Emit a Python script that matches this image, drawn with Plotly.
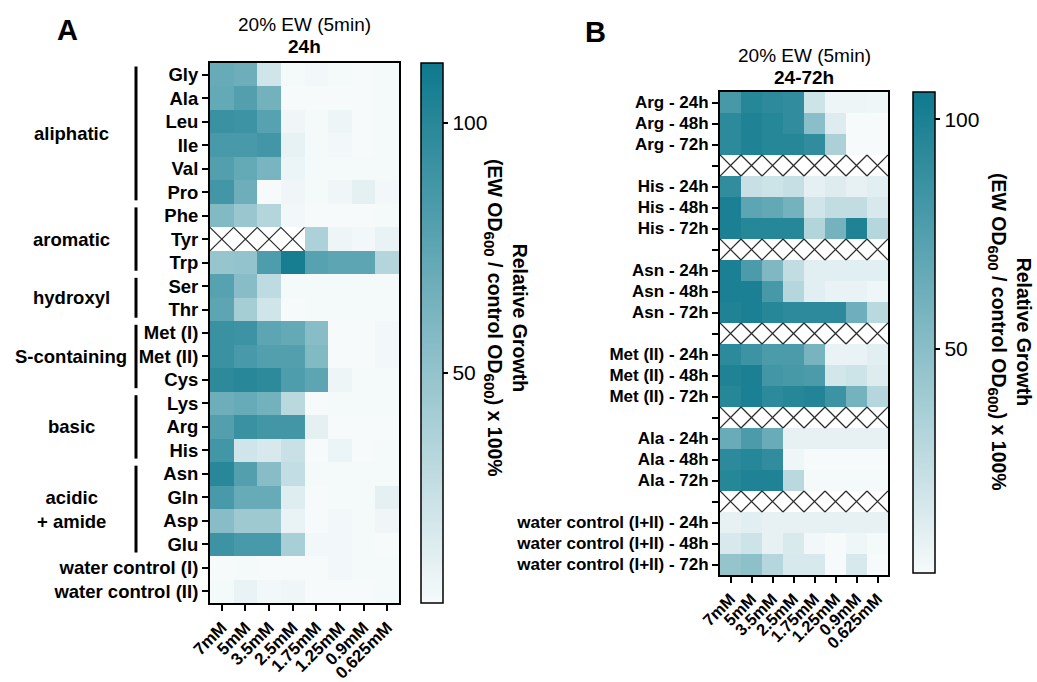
import plotly.graph_objects as go

W, H = 1037, 682
FONT = "Liberation Sans, Arial, sans-serif"

conc_labels = ["7mM", "5mM", "3.5mM", "2.5mM", "1.75mM", "1.25mM", "0.9mM", "0.625mM"]

# Panel A (24h)
a_rows = ["Gly", "Ala", "Leu", "Ile", "Val", "Pro", "Phe", "Tyr", "Trp", "Ser", "Thr",
          "Met (I)", "Met (II)", "Cys", "Lys", "Arg", "His", "Asn", "Gln", "Asp", "Glu",
          "water control (I)", "water control (II)"]
a_values = [
    [70, 68, 22, 5, 6, 5, 4, 5],
    [72, 80, 65, 4, 4, 4, 4, 5],
    [92, 90, 78, 7, 5, 8, 4, 5],
    [85, 85, 88, 11, 5, 6, 4, 5],
    [80, 72, 62, 9, 5, 5, 5, 5],
    [88, 68, 3, 7, 5, 7, 12, 6],
    [58, 47, 35, 6, 4, 4, 4, 5],
    [None, None, None, None, 38, 8, 6, 10],
    [48, 50, 82, 108, 78, 75, 75, 35],
    [78, 55, 30, 5, 5, 5, 5, 5],
    [75, 42, 22, 4, 5, 5, 5, 5],
    [92, 90, 75, 72, 55, 4, 4, 6],
    [92, 85, 80, 80, 58, 4, 4, 6],
    [98, 100, 98, 82, 75, 8, 5, 5],
    [68, 70, 65, 32, 4, 5, 5, 5],
    [80, 92, 88, 88, 12, 3, 3, 1],
    [88, 22, 18, 25, 4, 9, 4, 5],
    [100, 80, 55, 28, 5, 5, 5, 5],
    [85, 70, 70, 15, 4, 5, 5, 12],
    [55, 45, 45, 10, 3, 6, 5, 7],
    [90, 85, 85, 40, 6, 6, 5, 4],
    [4, 5, 4, 4, 4, 6, 5, 5],
    [5, 10, 6, 7, 4, 4, 4, 5],
]
a_groups = [
    ("aliphatic", "Gly", "Pro"),
    ("aromatic", "Phe", "Trp"),
    ("hydroxyl", "Ser", "Thr"),
    ("S-containing", "Met (I)", "Cys"),
    ("basic", "Lys", "His"),
    ("acidic<br>+ amide", "Asn", "Glu"),
]
a_range = [4, 112]

# Panel B (24-72h)
b_rows = ["Arg - 24h", "Arg - 48h", "Arg - 72h", "",
          "His - 24h", "His - 48h", "His - 72h", " ",
          "Asn - 24h", "Asn - 48h", "Asn - 72h", "  ",
          "Met (II) - 24h", "Met (II) - 48h", "Met (II) - 72h", "   ",
          "Ala - 24h", "Ala - 48h", "Ala - 72h", "    ",
          "water control (I+II) - 24h", "water control (I+II) - 48h", "water control (I+II) - 72h"]
N = [None] * 8
b_values = [
    [80, 95, 92, 90, 20, 5, 5, 4],
    [92, 98, 95, 90, 50, 12, 1, 1],
    [92, 98, 95, 95, 90, 35, 1, 1],
    N,
    [90, 22, 20, 23, 9, 12, 8, 10],
    [100, 70, 68, 60, 18, 25, 25, 15],
    [100, 95, 95, 95, 32, 60, 98, 30],
    N,
    [100, 78, 55, 25, 10, 10, 10, 10],
    [100, 100, 80, 30, 10, 7, 7, 4],
    [98, 100, 95, 92, 92, 92, 62, 28],
    N,
    [92, 85, 78, 78, 58, 7, 7, 10],
    [98, 100, 82, 80, 78, 17, 20, 12],
    [95, 100, 92, 95, 97, 85, 60, 30],
    N,
    [65, 78, 65, 8, 8, 8, 8, 8],
    [92, 95, 90, 4, 1, 1, 1, 1],
    [95, 98, 98, 28, 2, 2, 2, 2],
    N,
    [8, 10, 8, 8, 8, 8, 8, 8],
    [15, 20, 8, 14, 3, 1, 4, 2],
    [45, 48, 30, 15, 15, 1, 15, 1],
]
b_range = [1, 106]

colorscale = [[0, "rgb(246,250,251)"], [1, "rgb(14,121,141)"]]


def px_x(v):
    return v / W


def px_y(v):
    return 1 - v / H


def hatch_xy(values):
    xs, ys = [], []
    for i, row in enumerate(values):
        for j, v in enumerate(row):
            if v is None:
                xs += [j - 0.5, j + 0.5, None, j + 0.5, j - 0.5, None]
                ys += [i - 0.5, i + 0.5, None, i - 0.5, i + 0.5, None]
    return xs, ys


fig = go.Figure()

panels = [
    dict(rows=a_rows, vals=a_values, rng=a_range, xa="x", ya="y",
         dom_x=[px_x(210), px_x(399)], dom_y=[px_y(603), px_y(63)],
         cb_x=px_x(421), cb_y=px_y(63), cb_len=(603 - 63) / H, lab=18.5, xlab=17),
    dict(rows=b_rows, vals=b_values, rng=b_range, xa="x2", ya="y2",
         dom_x=[px_x(720), px_x(888)], dom_y=[px_y(575), px_y(92)],
         cb_x=px_x(913), cb_y=px_y(92), cb_len=(573 - 92) / H, lab=17, xlab=16.5),
]

for k, p in enumerate(panels):
    n = len(p["rows"])
    fig.add_trace(go.Heatmap(
        z=p["vals"], x=list(range(len(conc_labels))), y=list(range(n)),
        colorscale=colorscale, zmin=p["rng"][0], zmax=p["rng"][1],
        xaxis=p["xa"], yaxis=p["ya"], hoverongaps=False,
        colorbar=dict(
            x=p["cb_x"], xanchor="left", xpad=0, y=p["cb_y"], yanchor="top", ypad=0,
            len=p["cb_len"], lenmode="fraction", thickness=22, thicknessmode="pixels",
            outlinewidth=1.5, outlinecolor="black",
            tickvals=[50, 100], ticks="outside", ticklen=5, tickwidth=1.5, tickcolor="black",
            tickfont=dict(family=FONT, size=21, color="black"),
        ),
    ))
    hx, hy = hatch_xy(p["vals"])
    fig.add_trace(go.Scatter(
        x=hx, y=hy, mode="lines", line=dict(color="#2a2a2a", width=1.2),
        xaxis=p["xa"], yaxis=p["ya"], hoverinfo="skip", showlegend=False,
    ))
    axis_common = dict(showline=True, mirror=True, linecolor="black", linewidth=2,
                       ticks="outside", ticklen=6, tickwidth=2, tickcolor="black",
                       showgrid=False, zeroline=False)
    xkey = "xaxis" if k == 0 else "xaxis2"
    ykey = "yaxis" if k == 0 else "yaxis2"
    fig.update_layout({
        xkey: dict(domain=p["dom_x"], range=[-0.5, len(conc_labels) - 0.5],
                   tickvals=list(range(len(conc_labels))), ticktext=conc_labels,
                   tickangle=-45, anchor=p["ya"],
                   tickfont=dict(family=FONT, size=p["xlab"], color="black", weight="bold"),
                   **axis_common),
        ykey: dict(domain=p["dom_y"], range=[n - 0.5, -0.5],
                   tickvals=list(range(n)), ticktext=p["rows"], anchor=p["xa"],
                   tickfont=dict(family=FONT, size=p["lab"], color="black", weight="bold"),
                   **axis_common),
    })

annotations = []
shapes = []

# group brackets for panel A
for name, first, last in a_groups:
    i0, i1 = a_rows.index(first), a_rows.index(last)
    shapes.append(dict(type="line", xref="paper", yref="y", x0=px_x(136), x1=px_x(136),
                       y0=i0 - 0.35, y1=i1 + 0.35, line=dict(color="black", width=3)))
    annotations.append(dict(text=name, xref="paper", yref="y", x=px_x(71), y=(i0 + i1) / 2,
                            showarrow=False, xanchor="center", yanchor="middle",
                            font=dict(family=FONT, size=18.5, color="black", weight="bold")))

# titles
for xc, y1, y2, sub in [(304, 25, 47, "24h"), (804, 55, 77, "24-72h")]:
    annotations.append(dict(text="20% EW (5min)", xref="paper", yref="paper", x=px_x(xc), y=px_y(y1),
                            showarrow=False, xanchor="center", yanchor="middle",
                            font=dict(family=FONT, size=19, color="black")))
    annotations.append(dict(text="<b>%s</b>" % sub, xref="paper", yref="paper", x=px_x(xc), y=px_y(y2),
                            showarrow=False, xanchor="center", yanchor="middle",
                            font=dict(family=FONT, size=19, color="black")))

# panel letters
for letter, xc, yc in [("A", 67, 30), ("B", 595, 32)]:
    annotations.append(dict(text="<b>%s</b>" % letter, xref="paper", yref="paper", x=px_x(xc), y=px_y(yc),
                            showarrow=False, xanchor="center", yanchor="middle",
                            font=dict(family=FONT, size=29, color="black")))

# colorbar titles
sub = '<sub><span style="font-size:15px">600</span></sub>'
cb_title = "<b>Relative Growth<br>(EW OD%s / control OD%s) x 100%%</b>" % (sub, sub)
for xc, yc in [(506, 318), (1010, 332)]:
    annotations.append(dict(text=cb_title, xref="paper", yref="paper", x=px_x(xc), y=px_y(yc),
                            textangle=90, showarrow=False, xanchor="center", yanchor="middle",
                            font=dict(family=FONT, size=19.5, color="black")))

fig.update_layout(
    width=W, height=H, margin=dict(l=0, r=0, t=0, b=0, autoexpand=False),
    paper_bgcolor="white", plot_bgcolor="white",
    annotations=annotations, shapes=shapes, showlegend=False,
    font=dict(family=FONT, color="black"),
)

fig.write_html("out.html")
